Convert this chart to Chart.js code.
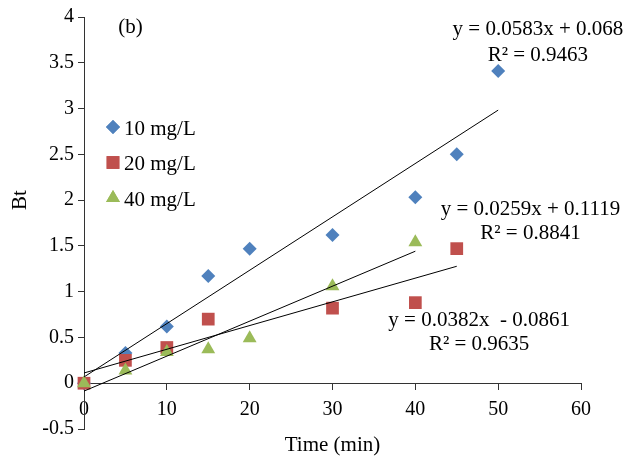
<!DOCTYPE html>
<html lang="en">
<head>
<meta charset="UTF-8">
<title>Bt vs Time</title>
<script src="https://cdn.jsdelivr.net/npm/chart.js"></script>
<style>
    html, body { margin: 0; padding: 0; background: #fff; }
    #wrap { width: 628px; height: 460px; }
</style>
</head>
<body>
<div id="wrap"><canvas id="btChart" width="628" height="460"></canvas></div>
<script>
    // data
    var time10 = [0, 5, 10, 15, 20, 30, 40, 45, 50];
    var bt10 = [0, 0.33, 0.62, 1.17, 1.47, 1.62, 2.03, 2.50, 3.41];
    var time20 = [0, 5, 10, 15, 30, 40, 45];
    var bt20 = [0, 0.25, 0.39, 0.70, 0.82, 0.88, 1.47];
    var time40 = [0, 5, 10, 15, 20, 30, 40];
    var bt40 = [0, 0.14, 0.34, 0.37, 0.49, 1.06, 1.54];

    var seriesNames = ['10 mg/L', '20 mg/L', '40 mg/L'];
    var seriesColors = ['#4F81BD', '#C0504D', '#9BBB59'];

    // linear trendlines as printed on the chart
    var trendSlope = [0.0583, 0.0259, 0.0382];
    var trendIntercept = [0.068, 0.1119, -0.0861];
    var trendEnd = [50, 45, 40];
    var trendText = [
        ['y = 0.0583x + 0.068', 'R\u00B2 = 0.9463'],
        ['y = 0.0259x + 0.1119', 'R\u00B2 = 0.8841'],
        ['y = 0.0382x  - 0.0861', 'R\u00B2 = 0.9635']
    ];
    var trendTextAt = [[54.8, 3.86, 3.58], [53.9, 1.90, 1.64], [47.7, 0.69, 0.42]];

    var serif = '"Liberation Serif", "Times New Roman", serif';

    function pts(xs, ys) {
        return xs.map(function (x, i) { return { x: x, y: ys[i] }; });
    }
    function trend(i) {
        return [
            { x: 0, y: trendIntercept[i] },
            { x: trendEnd[i], y: trendSlope[i] * trendEnd[i] + trendIntercept[i] }
        ];
    }

    var styles = ['rectRot', 'rect', 'triangle'];
    var radii = [7, 9, 8];

    var extras = {
        id: 'extras',
        afterDatasetsDraw: function (chart) {
            var ctx = chart.ctx;
            var xs = chart.scales.x, ys = chart.scales.y;
            var area = chart.chartArea;
            ctx.save();
            ctx.fillStyle = '#000';
            ctx.font = '21px ' + serif;
            ctx.textAlign = 'center';
            ctx.textBaseline = 'middle';

            ctx.fillText('(b)', xs.getPixelForValue(5.6), ys.getPixelForValue(3.89));

            trendText.forEach(function (lines, i) {
                var p = trendTextAt[i];
                ctx.fillText(lines[0], xs.getPixelForValue(p[0]), ys.getPixelForValue(p[1]));
                ctx.fillText(lines[1], xs.getPixelForValue(p[0]), ys.getPixelForValue(p[2]));
            });

            // legend inside the plot
            ctx.textAlign = 'left';
            seriesNames.forEach(function (name, i) {
                var cy = area.top + 110 + i * 35.5;
                var cx = area.left + 29;
                ctx.fillStyle = seriesColors[i];
                Chart.helpers.drawPoint(ctx, {
                    pointStyle: styles[i], radius: radii[i], borderWidth: 0
                }, cx, cy);
                ctx.fill();
                ctx.fillStyle = '#000';
                ctx.fillText(name, area.left + 40, cy + 2);
            });

            // axis titles
            ctx.textAlign = 'center';
            ctx.fillText('Time (min)', (area.left + area.right) / 2, 445);
            ctx.translate(20, 200);
            ctx.rotate(-Math.PI / 2);
            ctx.fillText('Bt', 0, 0);
            ctx.restore();
        }
    };

    var datasets = [];
    for (var i = 0; i < 3; i++) {
        datasets.push({
            label: 'trend ' + seriesNames[i],
            data: trend(i),
            showLine: true,
            borderColor: '#000',
            borderWidth: 1,
            pointRadius: 0,
            order: 0,
            clip: false
        });
    }
    var xsList = [time10, time20, time40];
    var ysList = [bt10, bt20, bt40];
    for (var j = 0; j < 3; j++) {
        datasets.push({
            label: seriesNames[j],
            data: pts(xsList[j], ysList[j]),
            pointStyle: styles[j],
            pointRadius: radii[j],
            pointHoverRadius: radii[j],
            backgroundColor: seriesColors[j],
            borderColor: seriesColors[j],
            borderWidth: 0,
            showLine: false,
            order: 3 - j,
            clip: false
        });
    }

    new Chart(document.getElementById('btChart'), {
        type: 'scatter',
        data: { datasets: datasets },
        options: {
            responsive: false,
            animation: false,
            layout: { padding: { left: 0, right: 47, top: 17, bottom: 31 } },
            plugins: {
                legend: { display: false },
                tooltip: { enabled: false }
            },
            scales: {
                x: {
                    type: 'linear',
                    min: 0,
                    max: 60,
                    position: { y: 0 },
                    ticks: { stepSize: 10, color: '#000', font: { family: serif, size: 20 }, padding: 9 },
                    grid: { drawOnChartArea: false, drawTicks: true, tickLength: 6, color: '#333' },
                    border: { display: true, color: '#333', width: 1 }
                },
                y: {
                    type: 'linear',
                    min: -0.5,
                    max: 4,
                    position: 'left',
                    afterFit: function (s) { s.width = 84; },
                    ticks: {
                        stepSize: 0.5, color: '#000', font: { family: serif, size: 20 }, padding: 4,
                        callback: function (v) { return String(Math.round(v * 10) / 10); }
                    },
                    grid: { drawOnChartArea: false, drawTicks: true, tickLength: 6, color: '#333' },
                    border: { display: true, color: '#333', width: 1 }
                }
            }
        },
        plugins: [extras]
    });
</script>
</body>
</html>
